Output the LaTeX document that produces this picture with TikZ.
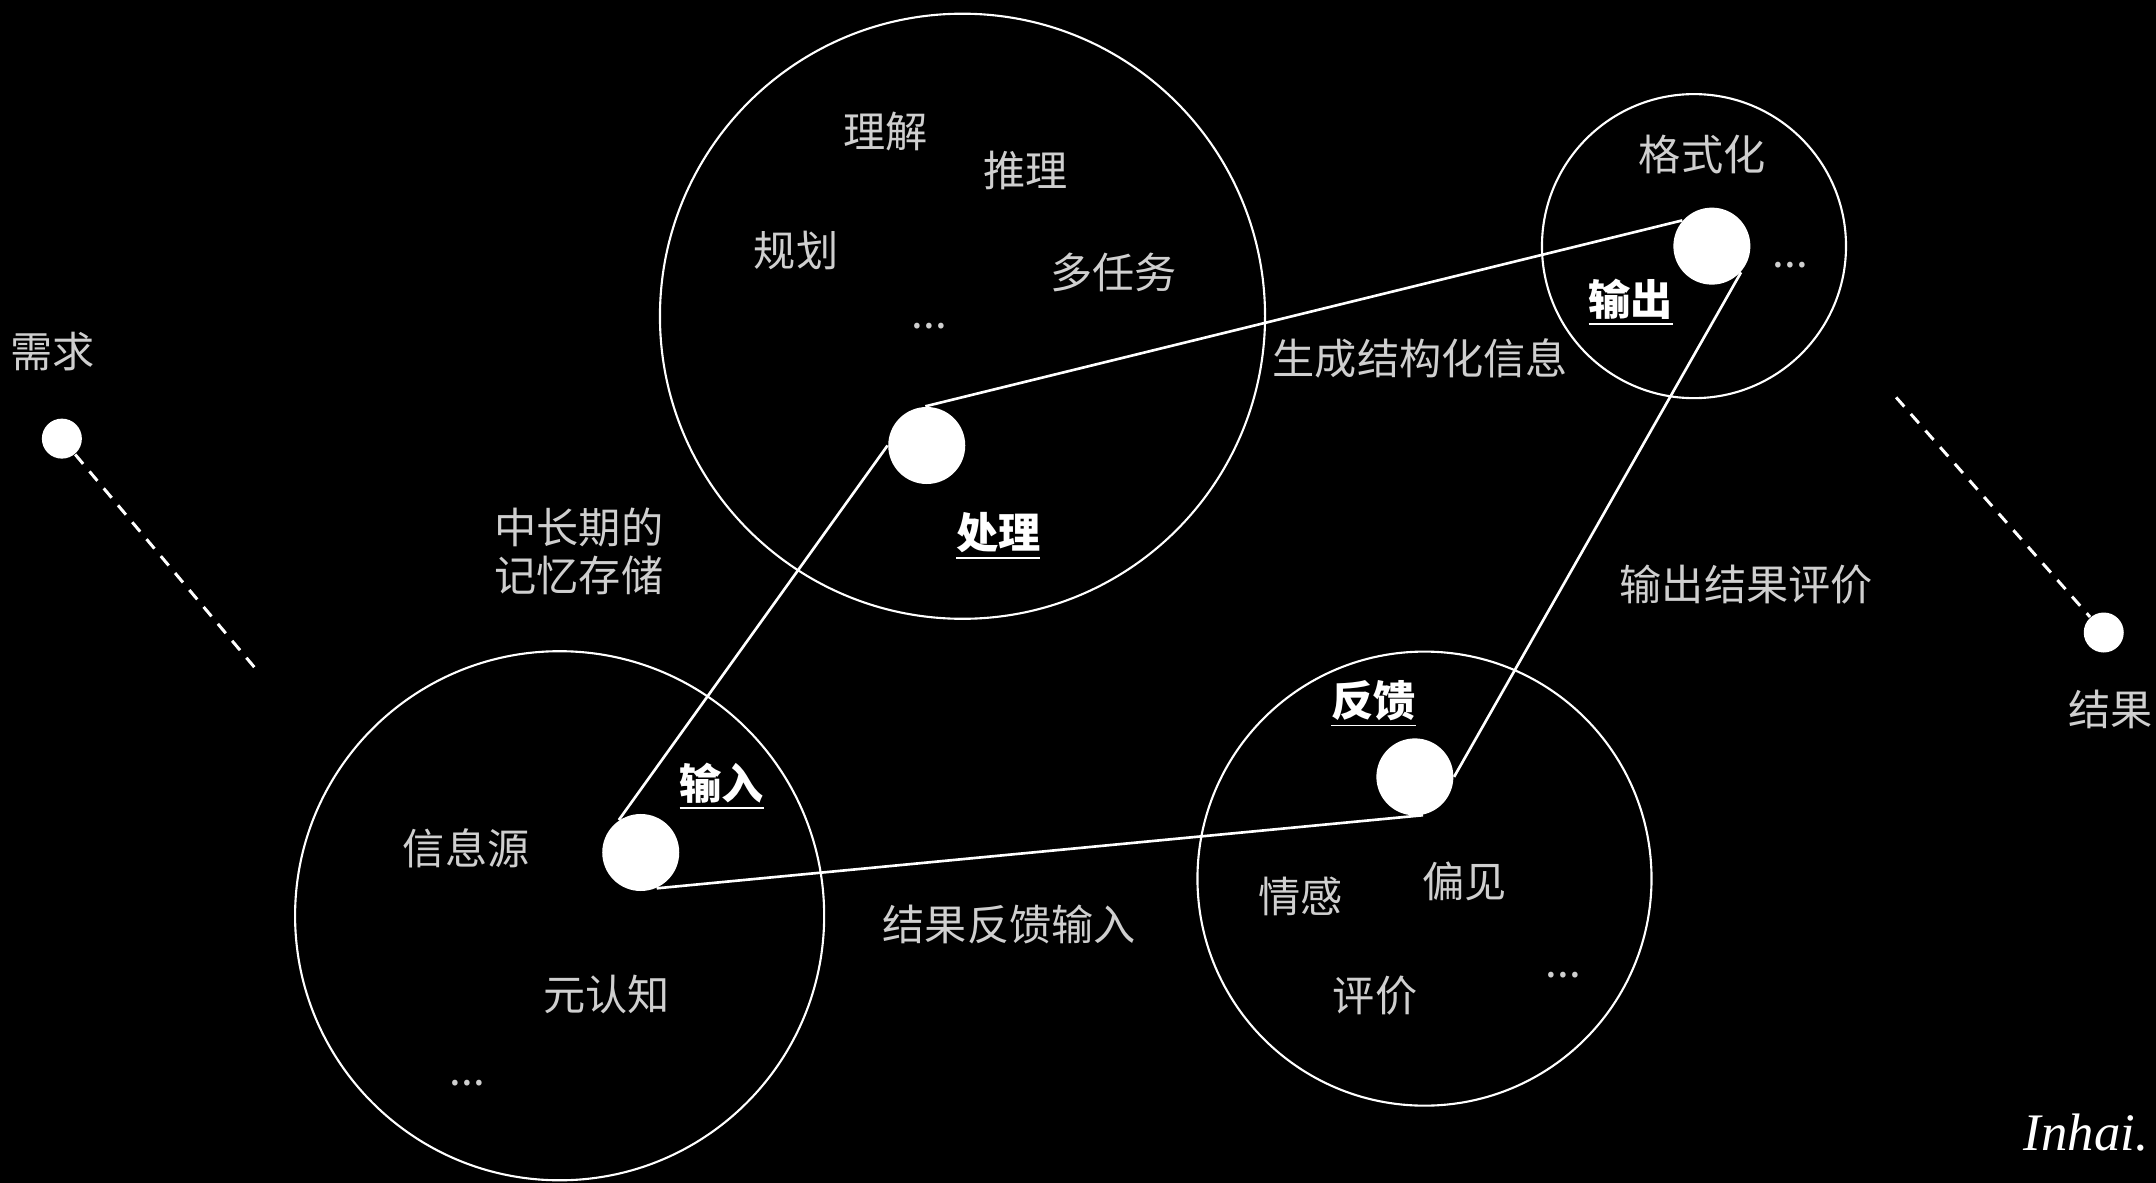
\documentclass[tikz,border=0pt]{standalone}
\usepackage{fontspec}
\setmainfont{Liberation Serif}
\newfontfamily\cjk{Noto Sans CJK SC}
\definecolor{lblgray}{HTML}{CFCFCF}
\begin{document}
\begin{tikzpicture}[x=0.01375cm, y=-0.01375cm,
  big/.style={circle, draw=white, line width=0.6pt, inner sep=0pt},
  dot/.style={circle, fill=white, inner sep=0pt, minimum size=0.77cm},
  sdot/.style={circle, fill=white, inner sep=0pt, minimum size=0.40cm},
  lbl/.style={text=lblgray, font=\cjk\fontsize{12}{13.6}\selectfont, inner sep=0pt},
  key/.style={text=white, font=\cjk\bfseries\fontsize{12}{13.6}\selectfont, inner sep=0pt},
  link/.style={draw=white, line width=0.75pt},
  dashlink/.style={draw=white, line width=0.85pt, dash pattern=on 3.5pt off 2.8pt}
]
\fill[black] (0,0) rectangle (1568,860);
\useasboundingbox (0,0) rectangle (1568,860);

% big circles
\node[big, minimum size=6.05cm] (procC) at (700,230) {};
\node[big, minimum size=3.04cm] (outC) at (1232,179) {};
\node[big, minimum size=5.29cm] (inC) at (407,666) {};
\node[big, minimum size=4.54cm] (fbC) at (1036,639) {};

% dots
\node[dot] (proc) at (674,324) {};
\node[dot] (out) at (1245,179) {};
\node[dot] (fb) at (1029,565) {};
\node[dot] (in) at (466,620) {};
\node[sdot] (need) at (45,319) {};
\node[sdot] (res) at (1530,460) {};
\coordinate (needEnd) at (189,490);
\coordinate (resStart) at (1379,289);

% links
\draw[link] (in.124) -- (proc.180);
\draw[link] (proc.92) -- (out.139);
\draw[link] (out.-42) -- (fb.0);
\draw[link] (fb.-78) -- (in.-66);
\draw[dashlink] (need) -- (needEnd);
\draw[dashlink] (resStart) -- (res);

% outer labels
\node[lbl] (tNeed) at (38,256) {需求};
\node[lbl] (tRes) at (1535,516) {结果};

% processing
\node[lbl] (tP1) at (644,96) {理解};
\node[lbl] (tP2) at (746,124) {推理};
\node[lbl] (tP3) at (579,182) {规划};
\node[lbl] (tP4) at (810,198) {多任务};
\node[lbl] (tP5) at (676,237) {...};
\node[key] (kProc) at (726,390) {\underline{处理}};

% output
\node[lbl] (tO1) at (1238,112) {格式化};
\node[lbl] (tO2) at (1302,193) {...};
\node[key] (kOut) at (1186,220) {\underline{输出}};

% feedback
\node[key] (kFb) at (999,512) {\underline{反馈}};
\node[lbl] (tF1) at (946,652) {情感};
\node[lbl] (tF2) at (1065,641) {偏见};
\node[lbl] (tF3) at (1000,724) {评价};
\node[lbl] (tF4) at (1137,709) {...};

% input
\node[key] (kIn) at (525,572) {\underline{输入}};
\node[lbl] (tI1) at (339,617) {信息源};
\node[lbl] (tI2) at (441,723) {元认知};
\node[lbl] (tI3) at (340,788) {...};

% connector labels
\node[lbl, align=left] (tMem) at (421,401) {中长期的\\记忆存储};
\node[lbl] (tGen) at (1033,261) {生成结构化信息};
\node[lbl] (tEval) at (1270,425) {输出结果评价};
\node[lbl] (tBack) at (734,672) {结果反馈输入};

\node[text=white, font=\fontsize{15}{18}\selectfont\itshape, inner sep=0pt, anchor=east] (sig) at (1563,824) {Inhai.};
\end{tikzpicture}
\end{document}
